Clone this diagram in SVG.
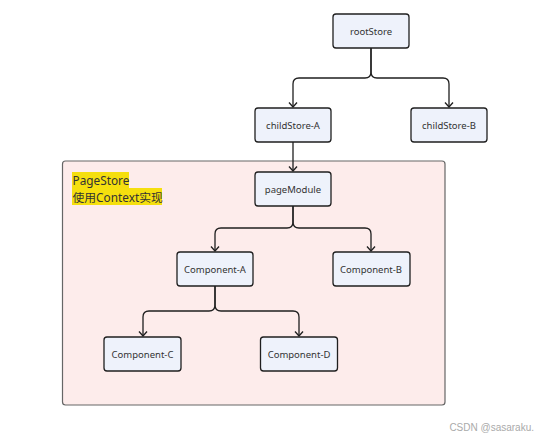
<svg xmlns="http://www.w3.org/2000/svg" width="538" height="440" viewBox="0 0 538 440">
<style>
.node rect{fill:#eef2fb;stroke:#1f1f1f;stroke-width:1.3}
.node text{font-family:"Noto Sans","Noto Sans CJK SC",sans-serif;font-size:9.5px;fill:#333;text-anchor:middle;dominant-baseline:central}
.conn path{fill:none;stroke:#1f1f1f;stroke-width:1.3;marker-end:url(#arr)}
.lbl{font-family:"Noto Sans","Noto Sans CJK SC",sans-serif;font-size:11.8px;fill:#333}
</style>
<defs>
<marker id="arr" viewBox="0 0 10 10" refX="9" refY="5" markerWidth="10" markerHeight="10" markerUnits="userSpaceOnUse" orient="auto">
<path d="M4.5,1 L9,5 L4.5,9" fill="none" stroke="#1f1f1f" stroke-width="1.3"/>
</marker>
</defs>
<rect width="538" height="440" fill="#fff"/>
<g id="pageStore">
<rect x="62.5" y="161" width="382.5" height="244" rx="3" fill="#fdeceb" stroke="#666" stroke-width="1.2"/>
<rect x="72" y="172" width="57" height="16.5" fill="#f5df0e"/>
<rect x="72" y="188" width="90" height="17" fill="#f5df0e"/>
<text class="lbl" x="72.5" y="185">PageStore</text>
<text class="lbl" x="72.5" y="202">使用Context实现</text>
</g>
<g class="conn" id="connectors">
<path d="M371,48 V72 Q371,78 365,78 H299 Q293,78 293,84 V107"/>
<path d="M371,48 V72 Q371,78 377,78 H443 Q449,78 449,84 V107"/>
<path d="M293,142 V171"/>
<path d="M293,206 V222 Q293,228 287,228 H221 Q215,228 215,234 V251"/>
<path d="M293,206 V222 Q293,228 299,228 H365 Q371,228 371,234 V251"/>
<path d="M215,286 V305 Q215,311 209,311 H149 Q143,311 143,317 V336"/>
<path d="M215,286 V305 Q215,311 221,311 H293 Q299,311 299,317 V336"/>
</g>
<g class="node" id="rootStore"><rect x="333" y="14" width="76" height="34" rx="3"/><text x="371" y="31">rootStore</text></g>
<g class="node" id="childStoreA"><rect x="255" y="108" width="76" height="34" rx="3"/><text x="293" y="125">childStore-A</text></g>
<g class="node" id="childStoreB"><rect x="411" y="108" width="76" height="34" rx="3"/><text x="449" y="125">childStore-B</text></g>
<g class="node" id="pageModule"><rect x="255" y="172" width="76" height="34" rx="3"/><text x="293" y="189">pageModule</text></g>
<g class="node" id="componentA"><rect x="177" y="252" width="76" height="34" rx="3"/><text x="215" y="269">Component-A</text></g>
<g class="node" id="componentB"><rect x="333" y="252" width="77" height="34" rx="3"/><text x="371" y="269">Component-B</text></g>
<g class="node" id="componentC"><rect x="104" y="337" width="77" height="34" rx="3"/><text x="142.5" y="354">Component-C</text></g>
<g class="node" id="componentD"><rect x="260.5" y="337" width="77" height="34" rx="3"/><text x="299" y="354">Component-D</text></g>
<text x="534" y="431" text-anchor="end" font-family="Liberation Sans, sans-serif" font-size="10" fill="#aaa">CSDN @sasaraku.</text>
</svg>
